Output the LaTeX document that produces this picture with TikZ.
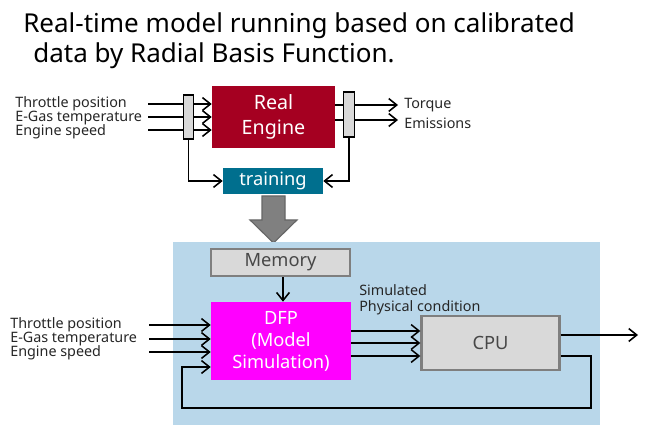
\documentclass[tikz,border=0pt]{standalone}
\usepackage{fontspec}
\setmainfont{Noto Sans}
\usetikzlibrary{arrows.meta}

\definecolor{enginered}{HTML}{A50021}
\definecolor{trainteal}{HTML}{006F8E}
\definecolor{simblue}{HTML}{B9D7EA}
\definecolor{dfppink}{HTML}{FF00FF}
\definecolor{boxgray}{HTML}{D9D9D9}
\definecolor{edgegray}{HTML}{7F7F7F}
\definecolor{arrowgray}{HTML}{808080}

\tikzset{
	sig/.style={draw, line width=1.1pt, -{Straight Barb[length=2mm,width=3.2mm]}},
	barbox/.style={draw, line width=1.3pt, fill=boxgray, inner sep=0pt},
	graybox/.style={draw=edgegray, line width=1.6pt, fill=boxgray, inner sep=0pt, text=black!72, font=\fontsize{13}{15.6}\selectfont},
	solidbox/.style={inner sep=0pt, text=white, align=center, font=\fontsize{13}{15.6}\selectfont},
	lbl/.style={anchor=west, inner sep=0pt, text=black!85, font=\fontsize{10.2}{12}\selectfont},
}

\begin{document}
\begin{tikzpicture}[x=0.025cm, y=-0.025cm]
		\useasboundingbox (0,0) rectangle (650,425);

		% title
		\draw (23,33) node[anchor=base west, inner sep=0pt, font=\fontsize{18.5}{21}\selectfont] (title1) {Real-time model running based on calibrated};
		\draw (33,63) node[anchor=base west, inner sep=0pt, font=\fontsize{18.5}{21}\selectfont] (title2) {data by Radial Basis Function.};

		% training stage
		\draw (273.5,117) 	node[solidbox, fill=enginered, minimum width=3.075cm, minimum height=1.55cm, font=\fontsize{14}{17.7}\selectfont] (engine) {Real\\Engine};
		\draw (273,181) 	node[solidbox, fill=trainteal, minimum width=2.5cm, minimum height=0.625cm] (training) {training};

		\draw (15,104) 	node[lbl] (tin1) {Throttle position};
		\draw (15,118) 	node[lbl] (tin2) {E-Gas temperature};
		\draw (15,132) 	node[lbl] (tin3) {Engine speed};
		\coordinate (ti1) at (148,104);
		\coordinate (ti2) at (148,117);
		\coordinate (ti3) at (148,130);
		\draw[sig] (ti1) -- (ti1 -| engine.west);
		\draw[sig] (ti2) -- (ti2 -| engine.west);
		\draw[sig] (ti3) -- (ti3 -| engine.west);

		\coordinate (to1) at (398,105);
		\coordinate (to2) at (398,120);
		\draw[sig] (engine.east |- to1) -- (to1);
		\draw[sig] (engine.east |- to2) -- (to2);
		\draw (404,105) 	node[lbl] (tout1) {Torque};
		\draw (404,123) 	node[lbl] (tout2) {Emissions};

		\draw (188.5,117) 	node[barbox, minimum width=0.25cm, minimum height=1.1cm] (barL) {};
		\draw (349,114.5) 	node[barbox, minimum width=0.275cm, minimum height=1.125cm] (barR) {};
		\draw[sig] (barL.south) |- (training.west);
		\draw[sig] (barR.south) |- (training.east);

		\draw[fill=arrowgray, draw=black!60, line width=0.8pt] (262,196) -- (285,196) -- (285,220) -- (297,220) -- (273.5,243) -- (250,220) -- (262,220) -- cycle;

		% simulation stage
		\fill[simblue] (173,242) rectangle (600,425);

		\draw (280.5,262.5) 	node[graybox, minimum width=3.475cm, minimum height=0.675cm] (memory) {Memory};
		\draw (281,341) 	node[solidbox, fill=dfppink, minimum width=3.5cm, minimum height=1.95cm] (dfp) {DFP\\(Model\\Simulation)};
		\draw (490.5,343) 	node[graybox, minimum width=3.45cm, minimum height=1.35cm] (cpu) {CPU};

		\draw[sig] (memory.south -| 283,0) -- (dfp.north -| 283,0);

		\draw (10,325) 	node[lbl] (din1) {Throttle position};
		\draw (10,339) 	node[lbl] (din2) {E-Gas temperature};
		\draw (10,353) 	node[lbl] (din3) {Engine speed};
		\coordinate (di1) at (149,325);
		\coordinate (di2) at (149,339);
		\coordinate (di3) at (149,352);
		\draw[sig] (di1) -- (di1 -| dfp.west);
		\draw[sig] (di2) -- (di2 -| dfp.west);
		\draw[sig] (di3) -- (di3 -| dfp.west);

		\draw (359,290) 	node[lbl] (sim1) {Simulated};
		\draw (359,308) 	node[lbl] (sim2) {Physical condition};
		\foreach \y in {331,343,356}
			\draw[sig] (dfp.east |- 0,\y) -- (cpu.west |- 0,\y);

		\coordinate (cpuout) at (638,335);
		\draw[sig] (cpu.east |- cpuout) -- (cpuout);

		\coordinate (fb1) at (591,356);
		\coordinate (fb2) at (182,408);
		\coordinate (fb3) at (182,367);
		\draw[sig] (cpu.east |- fb1) -- (fb1) |- (fb2) -- (fb3) -- (fb3 -| dfp.west);
	\end{tikzpicture}
\end{document}
